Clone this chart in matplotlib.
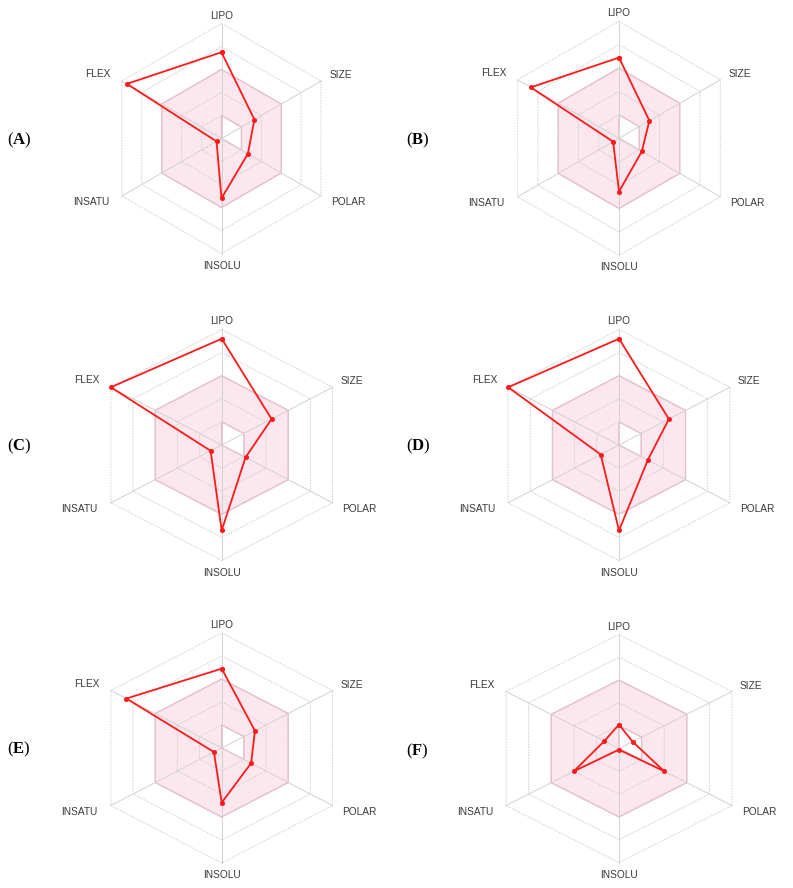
import numpy as np
import matplotlib.pyplot as plt
from matplotlib.path import Path
from matplotlib.patches import PathPatch

plt.rcParams['mathtext.fontset'] = 'custom'
plt.rcParams['mathtext.rm'] = 'Liberation Serif'
plt.rcParams['mathtext.bf'] = 'Liberation Serif:bold'

# Bioavailability radar, one value per panel (A..F), scale 0..1
panels = ['A', 'B', 'C', 'D', 'E', 'F']
axis_names = ['LIPO', 'SIZE', 'POLAR', 'INSOLU', 'INSATU', 'FLEX']
lipo = [0.75, 0.69, 0.92, 0.92, 0.69, 0.21]
size = [0.33, 0.30, 0.45, 0.45, 0.30, 0.12]
polar = [0.265, 0.225, 0.215, 0.26, 0.265, 0.40]
insolu = [0.52, 0.455, 0.74, 0.74, 0.475, 0.01]
insatu = [0.05, 0.058, 0.10, 0.165, 0.07, 0.40]
flex = [0.95, 0.87, 1.0, 1.0, 0.86, 0.13]

# optimal range (pink band): inner and outer limit on each axis
range_low = [0.2, 0.2, 0.2, 0.0, 0.0, 0.0]
range_high = [0.6, 0.6, 0.6, 0.6, 0.6, 0.6]
levels = [0.2, 0.4, 0.6, 0.8, 1.0]

# panel centre (px), radius x / y (px)
layout = {
    'A': (221.5, 138.5, 115, 115),
    'B': (619, 138.3, 117, 117),
    'C': (221.7, 445, 128, 115.5),
    'D': (619, 445, 128, 115.5),
    'E': (221.7, 748, 128, 115),
    'F': (619, 748.5, 130.5, 114),
}
tag_pos = {'A': (19, 140), 'B': (418, 140), 'C': (19, 446),
           'D': (418, 446), 'E': (19, 749), 'F': (417, 751)}

angles = np.deg2rad([90, 30, -30, -90, -150, 150])
# label offsets in px (dx, dy up) and alignment
label_style = [((0, 8), 'center'), ((8, 6), 'left'), ((10, -6), 'left'),
               ((0, -12), 'center'), ((-13, -6), 'right'), ((-11, 7), 'right')]

FW, FH = 793, 888
fig = plt.figure(figsize=(FW / 100, FH / 100), dpi=100)


def xy(r):
    r = np.asarray(r)
    return r * np.cos(angles), r * np.sin(angles)


for i, p in enumerate(panels):
    cx, cy, rx, ry = layout[p]
    W, H = 170, 150
    ax = fig.add_axes([(cx - W) / FW, 1 - (cy + H) / FH, 2 * W / FW, 2 * H / FH])
    ax.set_xlim(-W / rx, W / rx)
    ax.set_ylim(-H / ry, H / ry)
    ax.axis('off')

    # pink optimal band (outer hexagon minus inner polygon)
    ox, oy = xy(range_high)
    ix, iy = xy(range_low)
    outer = list(zip(ox, oy))
    inner = list(zip(ix, iy))[::-1]
    verts = outer + [outer[0]] + inner + [inner[0]]
    codes = ([Path.MOVETO] + [Path.LINETO] * 5 + [Path.CLOSEPOLY]) * 2
    ax.add_patch(PathPatch(Path(verts, codes), facecolor='#fce7ef',
                           edgecolor='#f0b9c8', lw=1.0, zorder=1))

    # grid
    for lv in levels:
        gx, gy = xy([lv] * 6)
        ax.plot(np.append(gx, gx[0]), np.append(gy, gy[0]), color='#cfcfcf',
                lw=0.7, ls=(0, (1.5, 1.2)), zorder=2)
    for a in angles:
        ax.plot([0, np.cos(a)], [0, np.sin(a)], color='#d2d2d2', lw=0.7, zorder=2)

    # axis labels
    for k, name in enumerate(axis_names):
        (dx, dy), ha = label_style[k]
        ax.annotate(name, xy=(np.cos(angles[k]), np.sin(angles[k])),
                    xytext=(dx * 0.72, dy * 0.72), textcoords='offset points',
                    ha=ha, va='center', fontsize=7.3, color='#3a3a3a',
                    family='Liberation Sans')

    # compound profile
    vals = [lipo[i], size[i], polar[i], insolu[i], insatu[i], flex[i]]
    vx, vy = xy(vals)
    ax.plot(np.append(vx, vx[0]), np.append(vy, vy[0]), color='#ff1a1a',
            lw=1.3, marker='o', ms=2.6, zorder=4)

    tx, ty = tag_pos[p]
    fig.text(tx / FW, 1 - ty / FH, r'($\mathbf{' + p + '}$)', ha='center',
             va='center', fontsize=12, family='Liberation Serif')

fig.savefig('out.png', dpi=100)
